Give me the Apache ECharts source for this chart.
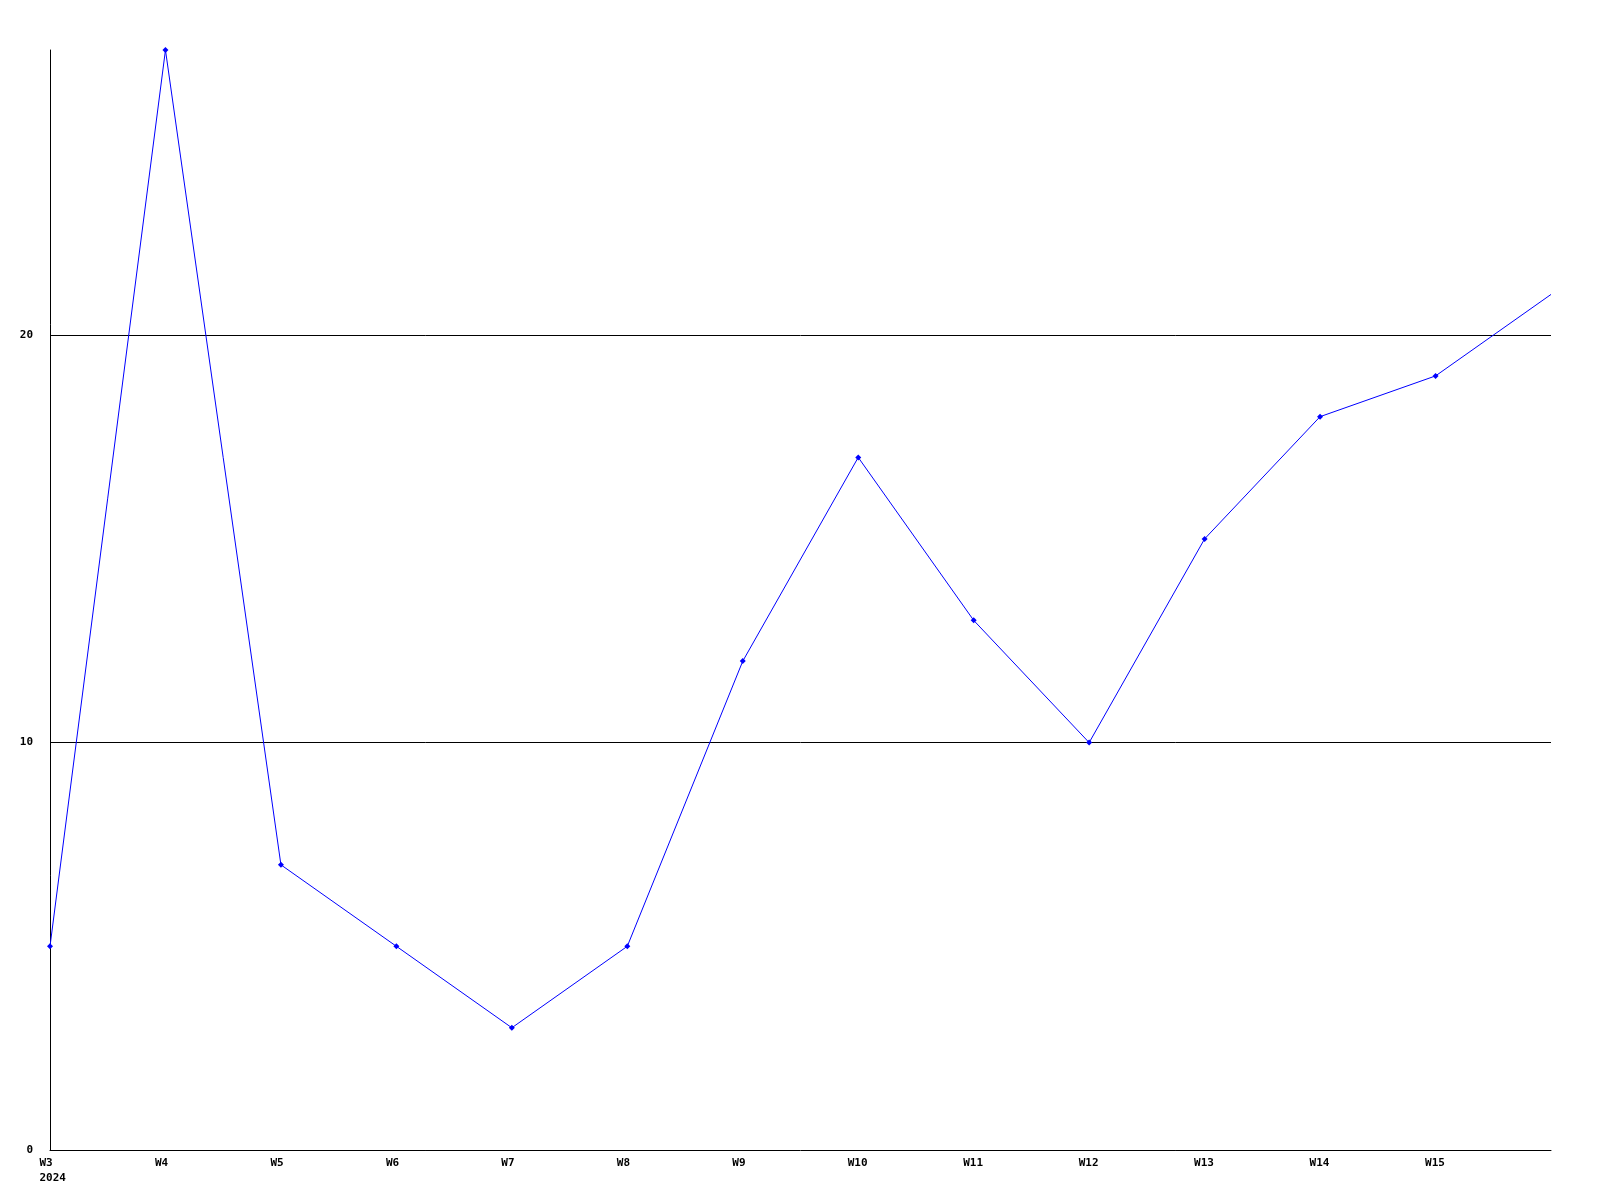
<!DOCTYPE html>
<html>
<head>
<meta charset="utf-8">
<script src="https://cdn.jsdelivr.net/npm/echarts@6/dist/echarts.min.js"></script>
<style>html,body{margin:0;padding:0;background:#fff;}#c{width:1600px;height:1200px;}</style>
</head>
<body>
<div id="c"></div>
<script>
const weeks = ['W3','W4','W5','W6','W7','W8','W9','W10','W11','W12','W13','W14','W15','W16'];
const values = [5, 27, 7, 5, 3, 5, 12, 17, 13, 10, 15, 18, 19, 21];
const yearLabel = '2024';
const yMax = 27;
const yInterval = 10;

const chart = echarts.init(document.getElementById('c'));
const font = '"DejaVu Sans Mono", monospace';
chart.setOption({
  animation: false,
  backgroundColor: '#ffffff',
  grid: { left: 50, right: 49, top: 50, bottom: 50, containLabel: false },
  xAxis: {
    type: 'category',
    data: weeks,
    boundaryGap: false,
    axisLine: { show: true, lineStyle: { color: '#000', width: 1 } },
    axisTick: { show: false },
    splitLine: { show: false },
    axisLabel: {
      color: '#000', fontFamily: font, fontWeight: 'bold', fontSize: 11,
      margin: 6, lineHeight: 15, align: 'center',
      showMaxLabel: false,
      formatter: function (v, i) {
        if (i === weeks.length - 1) return '';
        return i === 0 ? '{a|' + v + '}\n{a|' + yearLabel + '}' : '{a|' + v + '}';
      },
      rich: {
        a: { width: 21, align: 'left', color: '#000', fontFamily: font, fontWeight: 'bold', fontSize: 11, lineHeight: 15 }
      }
    }
  },
  yAxis: {
    type: 'value',
    min: 0, max: yMax, interval: yInterval,
    axisLine: { show: true, lineStyle: { color: '#000', width: 1 } },
    axisTick: { show: false },
    splitLine: { show: true, showMinLine: false, showMaxLine: false, lineStyle: { color: '#000', width: 1 } },
    axisLabel: {
      color: '#000', fontFamily: font, fontWeight: 'bold', fontSize: 11,
      margin: 17, showMaxLabel: false
    }
  },
  series: [{
    type: 'line',
    data: values.map((v, i) => i === values.length - 1 ? { value: v, symbolSize: 0 } : v),
    symbol: 'diamond',
    symbolSize: 6,
    showAllSymbol: true,
    lineStyle: { color: '#0000ff', width: 1 },
    itemStyle: { color: '#0000ff' },
    clip: false
  }]
});
</script>
</body>
</html>
